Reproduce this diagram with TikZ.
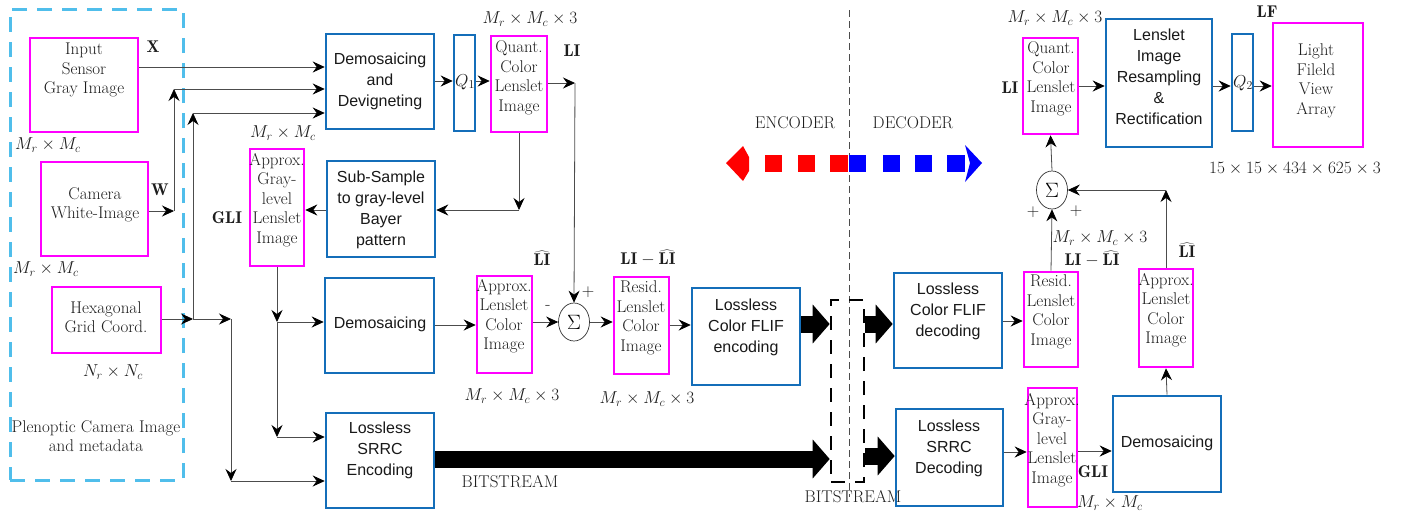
\documentclass[tikz,border=0pt]{standalone}
\usepackage{fontspec}
\newfontfamily\sansf{Liberation Sans}
\usetikzlibrary{arrows.meta,shapes.geometric}
\definecolor{mag}{RGB}{255,0,255}
\definecolor{bblue}{RGB}{20,110,185}
\definecolor{lblue}{RGB}{80,190,235}
\definecolor{txtc}{RGB}{30,30,30}
\definecolor{encred}{RGB}{255,0,0}
\definecolor{decblue}{RGB}{0,0,255}
\tikzset{
  mbox/.style={draw=mag, line width=2.6pt, inner sep=0pt},
  bbox/.style={draw=bblue, line width=2.6pt, inner sep=0pt},
  tx/.style={text=txtc, align=center, inner sep=0pt, font=\fontsize{17}{19.5}\selectfont},
  sx/.style={text=black!90, align=center, inner sep=0pt, font=\sansf\fontsize{16}{21}\selectfont},
  arr/.style={draw=black!70, line width=0.8pt, -{Stealth[length=12pt,width=11pt,inset=4pt,color=black]}},
  bigarr/.style={draw=black, line width=17pt, -{Triangle[length=17pt,width=38pt]}},
  sigm/.style={ellipse, draw=black!80, line width=0.7pt, minimum width=31pt, minimum height=38pt, inner sep=0pt, font=\fontsize{21}{22}\selectfont}
}
\begin{document}
\begin{tikzpicture}[x=1pt,y=-1pt]
\useasboundingbox (0,0) rectangle (1405,512);
\fill[white] (0,0) rectangle (1405,512);

% ---------- frame of camera data ----------
\node[draw=lblue, line width=3pt, dash pattern=on 15pt off 10pt, minimum width=173pt, minimum height=471pt, inner sep=0pt] (frame) at (96.5,244.5) {};

% ---------- encoder boxes ----------
\node[mbox, minimum width=108pt, minimum height=94pt] (inbox) at (84,85) {};
\node[tx] (inboxt) at (84,70) {Input\\Sensor\\Gray Image};
\node[mbox, minimum width=107pt, minimum height=94pt] (cambox) at (94.5,209) {};
\node[tx] (camboxt) at (95,205) {Camera\\White-Image};
\node[mbox, minimum width=109pt, minimum height=66pt] (hexbox) at (106.5,320) {};
\node[tx] (hexboxt) at (106,317) {Hexagonal\\Grid Coord.};

\node[bbox, minimum width=108pt, minimum height=95pt] (dem1) at (380,81.5) {};
\node[sx] (dem1t) at (380,81) {Demosaicing\\and\\Devigneting};
\node[bbox, minimum width=21pt, minimum height=96pt] (q1) at (464.5,83) {};
\node[tx] (q1t) at (465,82) {$Q_1$};
\node[mbox, minimum width=56pt, minimum height=96pt] (quant1) at (519,84) {};
\node[tx] (quant1t) at (519,78) {Quant.\\Color\\Lenslet\\Image};
\node[bbox, minimum width=108pt, minimum height=96pt] (sub) at (381,209) {};
\node[sx] (subt) at (381,210) {Sub-Sample\\to gray-level\\Bayer\\pattern};
\node[mbox, minimum width=54pt, minimum height=117pt] (agray1) at (277,207.5) {};
\node[tx] (agray1t) at (277,200) {Approx.\\Gray-\\level\\Lenslet\\Image};
\node[bbox, minimum width=109pt, minimum height=95pt] (demo2) at (379.5,325.5) {};
\node[sx] (demo2t) at (380,324) {Demosaicing};
\node[mbox, minimum width=55pt, minimum height=97pt] (alc1) at (504.5,324.5) {};
\node[tx] (alc1t) at (504,316) {Approx.\\Lenslet\\Color\\Image};
\node[sigm] (sig1) at (574,322) {$\Sigma$};
\node[mbox, minimum width=55pt, minimum height=97pt] (res1) at (641.5,325.5) {};
\node[tx] (res1t) at (641,318) {Resid.\\Lenslet\\Color\\Image};
\node[bbox, minimum width=108pt, minimum height=97pt] (fenc) at (746,336.5) {};
\node[sx] (fenct) at (746,327) {Lossless\\Color FLIF\\encoding};
\node[bbox, minimum width=108pt, minimum height=95pt] (senc) at (380,460.5) {};
\node[sx] (senct) at (380,450) {Lossless\\SRRC\\Encoding};

% ---------- bitstream box and divider ----------
\draw[draw=black!70, line width=0.7pt, dash pattern=on 7pt off 4pt] (849,10) -- (849,497);
\node[draw=black, line width=2.6pt, dash pattern=on 14pt off 10pt, minimum width=33pt, minimum height=182pt, inner sep=0pt] (bitbox) at (847.5,391) {};

% ---------- decoder boxes ----------
\node[bbox, minimum width=108pt, minimum height=95pt] (fdec) at (948,320.5) {};
\node[sx] (fdect) at (948,311) {Lossless\\Color FLIF\\decoding};
\node[mbox, minimum width=54pt, minimum height=95pt] (res2) at (1051,319.5) {};
\node[tx] (res2t) at (1051,312) {Resid.\\Lenslet\\Color\\Image};
\node[sigm] (sig2) at (1052,190) {$\Sigma$};
\node[mbox, minimum width=54pt, minimum height=98pt] (alc2) at (1166,318) {};
\node[tx] (alc2t) at (1166,310) {Approx.\\Lenslet\\Color\\Image};
\node[bbox, minimum width=108pt, minimum height=96pt] (demo3) at (1167,444) {};
\node[sx] (demo3t) at (1167,443) {Demosaicing};
\node[bbox, minimum width=107pt, minimum height=97pt] (sdec) at (949.5,457.5) {};
\node[sx] (sdect) at (949,448) {Lossless\\SRRC\\Decoding};
\node[mbox, minimum width=49pt, minimum height=119pt] (agray2) at (1052.5,447.5) {};
\node[tx] (agray2t) at (1052,440) {Approx.\\Gray-\\level\\Lenslet\\Image};
\node[mbox, minimum width=55pt, minimum height=96pt] (quant2) at (1050.5,86) {};
\node[tx] (quant2t) at (1051,79) {Quant.\\Color\\Lenslet\\Image};
\node[bbox, minimum width=106pt, minimum height=128pt] (lirs) at (1159,83) {};
\node[sx] (lirst) at (1159,77) {Lenslet\\Image\\Resampling\\\&\\Rectification};
\node[bbox, minimum width=21pt, minimum height=97pt] (q2) at (1242.5,82.5) {};
\node[tx] (q2t) at (1243,83) {$Q_2$};
\node[mbox, minimum width=90pt, minimum height=124pt] (lf) at (1318,85) {};
\node[tx] (lft) at (1316,81) {Light\\Fileld\\View\\Array};

% ---------- labels ----------
\node[tx] (lX) at (153,47) {$\mathbf{X}$};
\node[tx] (lmm1) at (48,145) {$M_r\times M_c$};
\node[tx] (lW) at (160,190) {$\mathbf{W}$};
\node[tx] (lmm2) at (46,269) {$M_r\times M_c$};
\node[tx] (lnn) at (113,372) {$N_r\times N_c$};
\node[tx] (lplen) at (96,436) {Plenoptic Camera Image\\and metadata};
\node[tx] (lmm3) at (283,133) {$M_r\times M_c$};
\node[tx] (lGLI1) at (227,218) {$\mathbf{GLI}$};
\node[tx] (lmmq1) at (530,19) {$M_r\times M_c\times 3$};
\node[tx] (lLI1) at (572,51) {$\mathbf{LI}$};
\node[tx] (lLIh1) at (542,258) {$\widehat{\mathbf{LI}}$};
\node[tx] (lminus) at (548,307) {-};
\node[tx] (lplus1) at (588,292) {$+$};
\node[tx] (lres1) at (648,258) {$\mathbf{LI}-\widehat{\mathbf{LI}}$};
\node[tx] (lmma1) at (512,396) {$M_r\times M_c\times 3$};
\node[tx] (lmmr1) at (647,399) {$M_r\times M_c\times 3$};
\node[tx] (lbit1) at (510,482) {BITSTREAM};
\node[tx] (lbit2) at (853,497) {BITSTREAM};
\node[tx] (lenc) at (795,123) {ENCODER};
\node[tx] (ldec) at (913,123) {DECODER};
\node[tx] (lmmq2) at (1055,18) {$M_r\times M_c\times 3$};
\node[tx] (lLI2) at (1010,88) {$\mathbf{LI}$};
\node[tx] (lplus2) at (1033,212) {$+$};
\node[tx] (lplus3) at (1076,211) {$+$};
\node[tx] (lmmr2) at (1100,238) {$M_r\times M_c\times 3$};
\node[tx] (lres2) at (1092,259) {$\mathbf{LI}-\widehat{\mathbf{LI}}$};
\node[tx] (lLIh2) at (1187,250) {$\widehat{\mathbf{LI}}$};
\node[tx] (lGLI2) at (1093,472) {$\mathbf{GLI}$};
\node[tx] (lmm4) at (1110,503) {$M_r\times M_c$};
\node[tx] (lLF) at (1267,12) {$\mathbf{LF}$};
\node[tx] (ldim) at (1295,169) {$15\times 15\times 434\times 625\times 3$};

% ---------- encoder/decoder arrow ----------
\fill[encred] (726,163) -- (743,146) -- (749,157) -- (749,171) -- (743,181) -- cycle;
\fill[encred] (765,155) rectangle (782,172);
\fill[encred] (798,155) rectangle (815,172);
\fill[encred] (830,155) rectangle (848,172);
\fill[decblue] (849,155) rectangle (866,172);
\fill[decblue] (883,155) rectangle (900,172);
\fill[decblue] (915,155) rectangle (932,172);
\fill[decblue] (947,155) rectangle (965,172);
\fill[decblue] (982,163) -- (965,145) -- (970,163) -- (965,182) -- cycle;

% ---------- coordinates ----------
\coordinate (wj) at (174,211);
\coordinate (wt) at (174,89);
\coordinate (hj) at (193,319);
\coordinate (ht) at (193,113);
\coordinate (hj2) at (231,319);
\coordinate (hb) at (231,481);
\coordinate (lij) at (575,83);
\coordinate (qj) at (519,210);
\coordinate (gj) at (277,322);
\coordinate (gj2) at (277,437);
\coordinate (aj) at (1166,190);

% ---------- encoder connectors ----------
\draw[arr] (inbox.east |- 0,67) -- (dem1.west |- 0,67);
\draw[arr] (cambox.east |- wj) -- (wj);
\draw[arr] (wj) -- (wt);
\draw[arr] (wt) -- (dem1.west |- wt);
\draw[arr] (hexbox.east |- hj) -- (hj);
\draw[arr] (hj) -- (ht);
\draw[arr] (ht) -- (dem1.west |- ht);
\draw[arr] (hj) -- (hj2);
\draw[arr] (hj2) -- (hb);
\draw[arr] (hb) -- (senc.west |- hb);
\draw[arr] (dem1.east |- 0,81) -- (q1.west |- 0,81);
\draw[arr] (q1.east |- 0,81) -- (quant1.west |- 0,81);
\draw[arr] (quant1.east |- lij) -- (lij);
\draw[arr] (lij) -- (sig1.north);
\draw[arr] (quant1.south) -- (qj);
\draw[arr] (qj) -- (sub.east |- qj);
\draw[arr] (sub.west |- 0,210) -- (agray1.east |- 0,210);
\draw[arr] (agray1.south) -- (gj);
\draw[arr] (gj) -- (demo2.west |- gj);
\draw[arr] (gj) -- (gj2);
\draw[arr] (gj2) -- (senc.west |- gj2);
\draw[arr] (demo2.east |- 0,325) -- (alc1.west |- 0,325);
\draw[arr] (alc1.east |- sig1.west) -- (sig1.west);
\draw[arr] (sig1.east) -- (res1.west |- sig1.east);
\draw[arr] (res1.east |- 0,325) -- (fenc.west |- 0,325);
\draw[bigarr] (fenc.east |- 0,324) -- (bitbox.west |- 0,324);
\draw[bigarr] (senc.east |- 0,459) -- (bitbox.west |- 0,459);

% ---------- decoder connectors ----------
\draw[bigarr] (bitbox.east |- 0,324) -- (fdec.west |- 0,324);
\draw[bigarr] (bitbox.east |- 0,456) -- (sdec.west |- 0,456);
\draw[arr] (fdec.east |- 0,321) -- (res2.west |- 0,321);
\draw[arr] (res2.north) -- (sig2.south);
\draw[arr] (alc2.north) -- (aj);
\draw[arr] (aj) -- (sig2.east);
\draw[arr] (demo3.north) -- (alc2.south);
\draw[arr] (sdec.east |- 0,452) -- (agray2.west |- 0,452);
\draw[arr] (agray2.east |- 0,451) -- (demo3.west |- 0,451);
\draw[arr] (sig2.north) -- (quant2.south);
\draw[arr] (quant2.east |- 0,86) -- (lirs.west |- 0,86);
\draw[arr] (lirs.east |- 0,86) -- (q2.west |- 0,86);
\draw[arr] (q2.east |- 0,86) -- (lf.west |- 0,86);
\end{tikzpicture}
\end{document}
